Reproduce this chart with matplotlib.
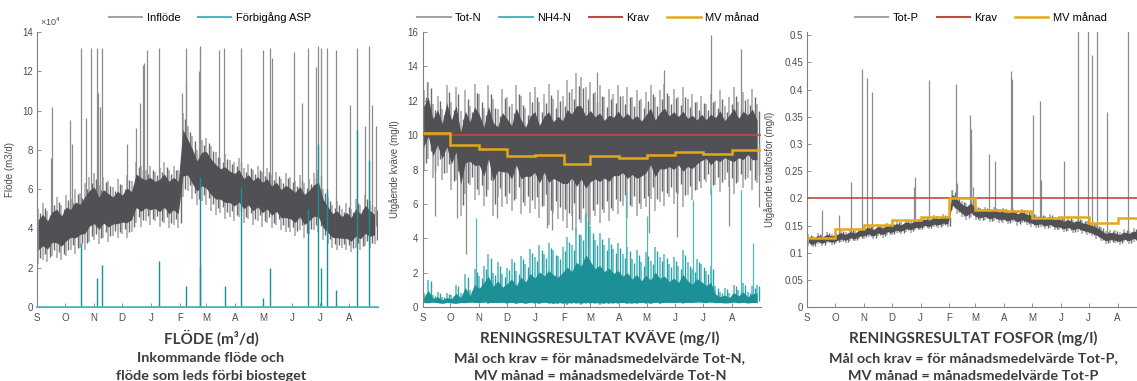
import matplotlib.pyplot as plt
import numpy as np
from matplotlib.lines import Line2D

plt.rcParams['font.family'] = ['Liberation Sans', 'DejaVu Sans']

GRAY_L = '#a3a3a3'; GRAY_M = '#6a6a6e'; GRAY_D = '#505055'
TEAL_L = '#4fb8bd'; TEAL_M = '#2a9fa5'; TEAL_D = '#1b9097'
RED = '#bf4b45'; YEL = '#e6a817'; TXT = '#4d4d4d'; AX = '#808080'
TITLE = ['Lato', 'DejaVu Sans']

# --- time axis: sample every 5 days from 1 Sept, month starts -----------
DAYS = np.arange(0, 365, 5)
MONTH_EDGES = [0, 30, 61, 91, 122, 153, 181, 212, 242, 273, 303, 334, 365]
MONTHS = ['S', 'O', 'N', 'D', 'J', 'F', 'M', 'A', 'M', 'J', 'J', 'A']

# --- flow (x 10^4 m3/d): envelope of the daily band ---------------------
infl_hi = [5.0, 5.3, 4.9, 5.4, 5.6, 5.2, 5.7, 5.5, 6.0, 5.8, 6.3, 6.6,
           6.8, 6.2, 6.6, 6.4, 6.1, 6.5, 6.2, 6.7, 6.4, 7.4, 7.2, 7.0,
           7.2, 6.9, 7.1, 7.4, 7.0, 7.2, 7.0, 9.9, 9.2, 8.7, 8.0, 8.5,
           8.6, 8.2, 7.9, 7.6, 7.8, 7.5, 7.4, 7.6, 7.1, 7.3, 7.0, 7.2,
           6.9, 7.1, 6.7, 6.9, 6.5, 6.8, 6.6, 6.4, 6.7, 6.3, 6.5, 6.8,
           7.0, 6.0, 5.6, 5.2, 5.4, 5.0, 5.3, 5.0, 5.5, 5.2, 5.7, 5.4, 5.1]
infl_lo = [2.2, 2.4, 2.3, 2.6, 2.5, 2.4, 2.6, 2.9, 2.7, 3.0, 2.9, 3.3,
           3.4, 3.2, 3.5, 3.3, 3.6, 3.5, 3.7, 3.5, 3.8, 4.3, 4.1, 4.4,
           4.2, 4.4, 4.1, 4.3, 4.0, 4.2, 4.0, 5.6, 5.9, 5.5, 5.2, 5.4,
           5.2, 4.9, 4.7, 4.8, 4.5, 4.6, 4.4, 4.6, 4.3, 4.5, 4.2, 4.4,
           4.1, 4.3, 4.0, 4.2, 3.9, 3.8, 3.8, 3.6, 3.9, 3.5, 3.7, 3.9,
           3.8, 3.4, 3.2, 3.0, 2.9, 3.0, 2.9, 2.8, 3.0, 2.9, 3.1, 3.0, 3.2]
infl_spike_day = [15, 16, 35, 38, 47, 52, 58, 64, 65.5, 67.6, 70, 96, 106, 110,
                  114, 115, 117.7, 130.6, 155, 159.5, 160, 173, 174, 175, 194.5,
                  200.6, 218.5, 241.7, 249, 251.8, 275, 284, 290, 298.6, 300.8,
                  303.6, 310.8, 320.5, 335.5, 343, 350.9, 355.5, 358, 362.7]
infl_spike_val = [7.6, 10.2, 9.5, 8.3, 13.2, 9.6, 13.2, 13.2, 10.9, 10.2, 13.2,
                  8.3, 9.1, 10.4, 12.3, 12.4, 13.1, 13.2, 10.9, 13.2, 11.5, 12.0,
                  13.3, 13.2, 13.1, 13.2, 13.2, 13.1, 13.2, 12.7, 13.0, 10.4,
                  13.2, 12.2, 13.3, 13.2, 13.2, 13.1, 10.3, 13.2, 9.2, 13.3,
                  10.3, 9.2]
byp_day = [47.2, 64, 70, 130.6, 159.5, 174, 174.6, 201, 218.5, 241.7, 249.3,
           290, 300.8, 303.6, 310.8, 320.5, 343, 355.5]
byp_val = [3.24, 1.5, 2.14, 2.36, 1.07, 6.6, 2.1, 1.07, 6.1, 0.48, 1.97,
           5.0, 8.3, 2.0, 6.0, 0.87, 9.0, 7.5]

# --- nitrogen (mg/l) ------------------------------------------------------
totn_hi = [12.6, 13.1, 11.8, 12.3, 11.5, 12.9, 11.9, 12.8, 11.4, 12.6, 11.7, 13.0,
           12.4, 11.6, 12.9, 12.1, 11.5, 12.7, 12.2, 11.8, 12.9, 12.3, 11.6, 12.5,
           12.8, 11.9, 12.4, 13.0, 12.1, 12.6, 12.3, 13.2, 12.7, 13.6, 13.4, 12.8,
           13.1, 12.5, 12.9, 12.2, 12.7, 12.4, 12.9, 12.3, 12.8, 12.2, 12.6, 12.1,
           12.5, 12.9, 12.2, 12.6, 13.0, 12.3, 12.7, 12.2, 12.8, 12.1, 12.4, 11.9,
           12.3, 11.8, 12.4, 12.0, 12.6, 11.7, 12.2, 12.8, 11.9, 12.5, 12.1, 12.7, 11.8]
totn_lo = [7.9, 8.6, 7.5, 8.2, 7.4, 7.8, 6.8, 7.4, 5.3, 6.6, 7.1, 6.2,
           6.5, 5.9, 6.8, 5.3, 6.4, 5.8, 6.0, 5.6, 6.3, 5.4, 5.9, 5.5,
           5.7, 5.2, 5.9, 4.8, 5.5, 5.1, 5.0, 4.6, 5.3, 4.2, 4.9, 4.4,
           4.8, 5.3, 4.9, 5.5, 5.0, 5.6, 5.4, 5.9, 5.2, 5.8, 5.3, 5.7,
           5.8, 6.3, 5.6, 6.1, 5.9, 6.4, 6.0, 6.6, 5.8, 6.5, 6.2, 6.8,
           6.9, 7.3, 6.5, 7.1, 6.7, 7.4, 7.0, 6.6, 7.3, 6.9, 7.5, 6.8, 7.2]
totn_up_day = [5, 188, 261, 311, 344]
totn_up_val = [13.1, 13.7, 13.8, 15.8, 15.0]
totn_dn_day = [14, 37, 47, 80, 134, 140, 161, 179, 245, 275, 331, 363]
totn_dn_val = [5.3, 5.2, 3.1, 5.2, 4.6, 4.5, 4.5, 3.5, 4.3, 4.1, 4.7, 5.8]
nh4_hi = [0.8, 1.6, 0.7, 0.9, 0.6, 0.8, 0.7, 1.3, 0.8, 1.9, 1.0, 2.2,
          1.8, 2.4, 3.1, 2.0, 2.6, 1.9, 2.3, 2.8, 2.1, 3.0, 2.5, 3.4,
          2.9, 3.6, 3.1, 3.7, 3.3, 3.0, 3.5, 4.1, 3.6, 4.6, 4.2, 5.4,
          4.7, 3.9, 4.3, 3.6, 4.0, 3.4, 3.7, 3.1, 3.5, 2.8, 3.3, 2.6,
          3.2, 2.7, 3.5, 2.9, 3.1, 2.5, 2.9, 2.4, 3.3, 2.6, 2.2, 2.8,
          2.5, 2.1, 2.4, 1.2, 0.9, 1.1, 0.8, 1.3, 1.0, 1.4, 0.9, 1.2, 1.3]
nh4_lo = [0.25, 0.22, 0.28, 0.24, 0.21, 0.26, 0.23, 0.20, 0.25, 0.22, 0.27, 0.24,
          0.22, 0.26, 0.20, 0.24, 0.21, 0.25, 0.20, 0.23, 0.19, 0.22, 0.18, 0.21,
          0.20, 0.17, 0.22, 0.19, 0.16, 0.20, 0.18, 0.15, 0.20, 0.17, 0.14, 0.18,
          0.16, 0.19, 0.15, 0.18, 0.17, 0.20, 0.18, 0.21, 0.17, 0.20, 0.19, 0.22,
          0.20, 0.18, 0.22, 0.19, 0.21, 0.23, 0.21, 0.24, 0.20, 0.23, 0.22, 0.25,
          0.24, 0.22, 0.26, 0.23, 0.25, 0.22, 0.24, 0.27, 0.23, 0.26, 0.22, 0.25, 0.24]
nh4_spike_day = [58, 175, 220, 242, 292, 312, 344, 357]
nh4_spike_val = [5.2, 5.5, 6.6, 5.3, 6.2, 7.0, 6.8, 3.7]
krav_n = 10
mv_n = [10.1, 9.42, 9.19, 8.78, 8.82, 8.30, 8.78, 8.65, 8.84, 9.04, 8.90, 9.13]

# --- phosphorus (mg/l) ----------------------------------------------------
totp_hi = [0.134, 0.131, 0.136, 0.133, 0.138, 0.135, 0.137, 0.141, 0.138, 0.143, 0.140, 0.146,
           0.148, 0.151, 0.147, 0.153, 0.150, 0.155, 0.154, 0.158, 0.156, 0.161, 0.159, 0.163,
           0.162, 0.166, 0.164, 0.169, 0.167, 0.171, 0.168, 0.215, 0.205, 0.196, 0.191, 0.198,
           0.186, 0.183, 0.185, 0.181, 0.184, 0.180, 0.182, 0.179, 0.181, 0.177, 0.180, 0.176,
           0.174, 0.170, 0.172, 0.168, 0.171, 0.166, 0.167, 0.163, 0.166, 0.161, 0.164, 0.160,
           0.158, 0.155, 0.152, 0.147, 0.140, 0.142, 0.141, 0.138, 0.143, 0.140, 0.145, 0.142, 0.146]
totp_lo = [0.113, 0.110, 0.116, 0.112, 0.117, 0.114, 0.117, 0.120, 0.118, 0.122, 0.121, 0.125,
           0.126, 0.129, 0.125, 0.131, 0.128, 0.133, 0.132, 0.136, 0.134, 0.139, 0.137, 0.141,
           0.141, 0.145, 0.143, 0.147, 0.146, 0.149, 0.148, 0.178, 0.172, 0.165, 0.160, 0.166,
           0.160, 0.158, 0.161, 0.156, 0.159, 0.155, 0.155, 0.152, 0.156, 0.150, 0.154, 0.151,
           0.148, 0.145, 0.147, 0.143, 0.146, 0.141, 0.141, 0.138, 0.140, 0.136, 0.139, 0.135,
           0.133, 0.130, 0.126, 0.121, 0.116, 0.118, 0.117, 0.115, 0.119, 0.116, 0.120, 0.118, 0.121]
totp_spike_day = [15.5, 34.5, 47.6, 58.4, 64.4, 70.2, 115, 116.5, 131.5, 156.3,
                  160.6, 161.3, 175.3, 175.8, 176.5, 178, 195.9, 202.3, 219.3, 220,
                  242.6, 250.8, 252, 276.7, 291.8, 301.9, 306.2, 311.9, 322.3, 345.4]
totp_spike_val = [0.178, 0.169, 0.230, 0.438, 0.421, 0.395, 0.22, 0.24, 0.418, 0.215,
                  0.410, 0.229, 0.353, 0.327, 0.30, 0.22, 0.281, 0.268, 0.435, 0.42,
                  0.353, 0.379, 0.234, 0.268, 0.51, 0.51, 0.464, 0.51, 0.359, 0.51]
krav_p = 0.2
mv_p = [0.128, 0.1435, 0.151, 0.160, 0.166, 0.201, 0.1785, 0.177, 0.163, 0.166, 0.154, 0.163]


def band(ax, lo, hi, light, mid, dark, core=(0.25, 0.2)):
    # light streaks over the full range, darker streaks, filled dark core
    lo = np.asarray(lo); hi = np.asarray(hi); span = hi - lo
    ax.vlines(DAYS + 1.2, lo, hi, color=light, lw=1.1, zorder=2)
    ax.vlines(DAYS + 3.7, lo + 0.1 * span, hi - 0.08 * span, color=mid,
              lw=1.0, zorder=2.05)
    ax.fill_between(DAYS + 1.2, lo + core[0] * span, hi - core[1] * span,
                    color=dark, lw=0, zorder=2.1)


def spikes(ax, day, val, lo, hi, color, lw=0.9):
    idx = (np.asarray(day) // 5).astype(int)
    base = (np.asarray(lo)[idx] + np.asarray(hi)[idx]) / 2
    ax.vlines(day, base, val, color=color, lw=lw, zorder=2.05)


def style(ax, ymax, yticks, ylabels, ylabel, labx):
    ax.set_xlim(0, 365); ax.set_ylim(0, ymax)
    ax.set_xticks(MONTH_EDGES[:-1]); ax.set_xticklabels(MONTHS)
    ax.set_yticks(yticks); ax.set_yticklabels(ylabels)
    for sp in ['top', 'right']: ax.spines[sp].set_visible(False)
    for sp in ['left', 'bottom']:
        ax.spines[sp].set_color(AX); ax.spines[sp].set_linewidth(0.8)
    ax.tick_params(direction='in', length=3, width=0.6, colors=AX,
                   labelcolor=TXT, labelsize=7, pad=3)
    ax.tick_params(axis='x', pad=4)
    ax.set_ylabel(ylabel, fontsize=7, color=TXT)
    ax.yaxis.set_label_coords(labx, 0.5)


def legend(ax, items, x):
    handles = [Line2D([], [], color=c, lw=w) for _, c, w in items]
    ax.legend(handles, [t for t, _, _ in items], loc='center',
              bbox_to_anchor=(x, 1.052), ncol=len(items), frameon=False,
              fontsize=8, handlelength=3.0, handletextpad=0.4,
              columnspacing=1.6, borderpad=0, borderaxespad=0)


def titles(fig, xc, lines):
    ys = [0.112, 0.060, 0.012]
    for i, (t, y) in enumerate(zip(lines, ys)):
        fig.text(xc, y, t, ha='center', va='center', family=TITLE,
                 fontweight='bold', fontsize=11 if i == 0 else 10.4,
                 color='#3c3c3c')


fig = plt.figure(figsize=(11.37, 3.81), dpi=100, facecolor='white')
B, Hh = 0.194, 0.722

# panel 1: flow
ax1 = fig.add_axes([0.0325, B, 0.300, Hh])
band(ax1, infl_lo, infl_hi, GRAY_L, GRAY_M, GRAY_D)
spikes(ax1, infl_spike_day, infl_spike_val, infl_lo, infl_hi, '#8c8c8c')
ax1.vlines(byp_day, 0, byp_val, color=TEAL_D, lw=1.0, zorder=3)
ax1.plot([0, 365], [0, 0], color=TEAL_L, lw=1.2, zorder=3, clip_on=False)
style(ax1, 14, range(0, 15, 2), [str(v) for v in range(0, 15, 2)],
      'Flöde (m3/d)', -0.065)
fig.text(40 / 1137, 1 - 26 / 381, '×10$^{4}$', fontsize=6.5, color=TXT)
legend(ax1, [('Inflöde', GRAY_L, 1.5), ('Förbigång ASP', TEAL_L, 1.5)], 0.507)
titles(fig, 211 / 1137, ['FLÖDE (m³/d)', 'Inkommande flöde och',
                         'flöde som leds förbi biosteget'])

# panel 2: nitrogen
ax2 = fig.add_axes([0.3716, B, 0.2973, Hh])
band(ax2, totn_lo, totn_hi, GRAY_L, GRAY_M, GRAY_D, core=(0.3, 0.2))
spikes(ax2, totn_up_day, totn_up_val, totn_lo, totn_hi, '#8c8c8c')
spikes(ax2, totn_dn_day, totn_dn_val, totn_lo, totn_hi, '#8c8c8c')
band(ax2, nh4_lo, nh4_hi, TEAL_L, TEAL_M, TEAL_D, core=(0.02, 0.45))
spikes(ax2, nh4_spike_day, nh4_spike_val, nh4_lo, nh4_hi, TEAL_L)
ax2.plot([0, 365], [krav_n, krav_n], color=RED, lw=1.2, zorder=4)
ax2.stairs(mv_n, MONTH_EDGES, color=YEL, lw=1.8, zorder=5, baseline=None)
style(ax2, 16, range(0, 17, 2), [str(v) for v in range(0, 17, 2)],
      'Utgående kväve (mg/l)', -0.067)
legend(ax2, [('Tot-N', GRAY_L, 1.5), ('NH4-N', TEAL_L, 1.5),
             ('Krav', RED, 1.5), ('MV månad', YEL, 1.8)], 0.49)
titles(fig, 600 / 1137, ['RENINGSRESULTAT KVÄVE (mg/l)',
                         'Mål och krav = för månadsmedelvärde Tot-N,',
                         'MV månad = månadsmedelvärde Tot-N'])

# panel 3: phosphorus (runs past the right edge, as in the source)
ax3 = fig.add_axes([0.710, B, 0.2982, Hh])
band(ax3, totp_lo, totp_hi, GRAY_L, GRAY_M, GRAY_D)
spikes(ax3, totp_spike_day, totp_spike_val, totp_lo, totp_hi, '#8c8c8c')
ax3.plot([0, 365], [krav_p, krav_p], color=RED, lw=1.2, zorder=4)
ax3.stairs(mv_p, MONTH_EDGES, color=YEL, lw=1.8, zorder=5, baseline=None)
pt = np.round(np.arange(0, 0.51, 0.05), 2)
style(ax3, 0.506, pt, ['0'] + [f'{v:g}' for v in pt[1:]],
      'Utgående totalfosfor (mg/l)', -0.095)
legend(ax3, [('Tot-P', GRAY_L, 1.5), ('Krav', RED, 1.5),
             ('MV månad', YEL, 1.8)], 0.512)
titles(fig, 973 / 1137, ['RENINGSRESULTAT FOSFOR (mg/l)',
                         'Mål och krav = för månadsmedelvärde Tot-P,',
                         'MV månad = månadsmedelvärde Tot-P'])

fig.savefig('out.png', dpi=100, facecolor='white')
plt.close(fig)
